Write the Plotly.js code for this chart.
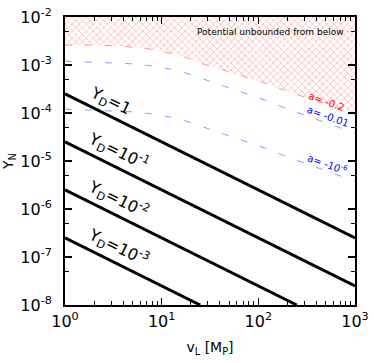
<!DOCTYPE html>
<html>
<head>
<meta charset="utf-8">
<script src="https://cdn.plot.ly/plotly-3.0.1.min.js"></script>
<style>
  html, body { margin: 0; padding: 0; background: #fff; }
  #chart { width: 374px; height: 363px; }
</style>
</head>
<body>
<div id="chart"></div>
<script>
// boundary curves (vL in M_P, Y_N)
const curveX = [1, 2.0, 3.7, 7.6, 15.5, 25, 51, 105, 270, 690, 1000];
const redY = [2.6e-3, 2.6e-3, 2.5e-3, 2.15e-3, 1.6e-3, 1.1e-3, 7.1e-4, 4.5e-4, 2.3e-4, 1.26e-4, 9.0e-5];

const blueX = [1, 2.0, 5.5, 9.6, 15.5, 27, 45, 73, 122, 203, 1000];
const blueY1 = [1.2e-3, 1.15e-3, 1.05e-3, 9.1e-4, 7.5e-4, 5.1e-4, 3.6e-4, 2.6e-4, 1.8e-4, 1.2e-4, 3.8e-5];
const blueY2 = [1.2e-4, 1.15e-4, 1.05e-4, 9.1e-5, 7.5e-5, 5.1e-5, 3.6e-5, 2.6e-5, 1.8e-5, 1.2e-5, 3.8e-6];

// straight Y_D lines (end points)
const ydLines = [
  { x: [1, 1000], y: [2.5e-4, 2.5e-7], label: "Y<sub>D</sub>=1", lx: 0.47, ly: -3.75 },
  { x: [1, 1000], y: [2.5e-5, 2.5e-8], label: "Y<sub>D</sub>=10<sup>-1</sup>", lx: 0.55, ly: -4.81 },
  { x: [1, 250], y: [2.5e-6, 1e-8], label: "Y<sub>D</sub>=10<sup>-2</sup>", lx: 0.55, ly: -5.81 },
  { x: [1, 25], y: [2.5e-7, 1e-8], label: "Y<sub>D</sub>=10<sup>-3</sup>", lx: 0.55, ly: -6.81 },
];

const xTickVals = [1, 10, 100, 1000];
const xTickText = ["10<sup>0</sup>", "10<sup>1</sup>", "10<sup>2</sup>", "10<sup>3</sup>"];
const yTickVals = [1e-8, 1e-7, 1e-6, 1e-5, 1e-4, 1e-3, 1e-2];
const yTickText = ["10<sup>-8</sup>", "10<sup>-7</sup>", "10<sup>-6</sup>", "10<sup>-5</sup>",
  "10<sup>-4</sup>", "10<sup>-3</sup>", "10<sup>-2</sup>"];
const yMinorVals = [5e-8, 5e-7, 5e-6, 5e-5, 5e-4, 5e-3];
const xMinorVals = [];
[1, 10, 100].forEach(d => { for (let k = 2; k <= 9; k++) xMinorVals.push(k * d); });

const traces = [];

// hatched region above the red curve
traces.push({
  x: curveX.concat([1000, 1]),
  y: redY.concat([1e-2, 1e-2]),
  mode: "lines",
  line: { width: 0 },
  fill: "toself",
  fillcolor: "rgba(0,0,0,0)",
  fillpattern: { shape: "x", fgcolor: "rgb(255,160,160)", bgcolor: "white", size: 5, solidity: 0.22 },
  hoverinfo: "skip",
});

traces.push({
  x: curveX, y: redY, mode: "lines",
  line: { color: "rgb(255,150,150)", width: 1, dash: "7px,13px" },
});
traces.push({
  x: blueX, y: blueY1, mode: "lines",
  line: { color: "rgb(150,150,255)", width: 1, dash: "7px,13px" },
});
traces.push({
  x: blueX, y: blueY2, mode: "lines",
  line: { color: "rgb(150,150,255)", width: 1, dash: "7px,13px" },
});

ydLines.forEach(l => {
  traces.push({ x: l.x, y: l.y, mode: "lines", line: { color: "black", width: 3 } });
});

const annotations = ydLines.map(l => ({
  x: l.lx, y: l.ly, text: l.label, textangle: 26, font: { size: 16, color: "black" },
}));

annotations.push(
  { x: 2.70, y: -3.75, text: "a= -0.2", textangle: 20, font: { size: 10, color: "red" } },
  { x: 2.72, y: -4.08, text: "a= -0.01", textangle: 20, font: { size: 10, color: "blue" } },
  { x: 2.72, y: -5.06, text: "a= -10<sup>-6</sup>", textangle: 20, font: { size: 10, color: "blue" } },
  { x: 2.13, y: -2.31, text: "Potential unbounded from below", font: { size: 9, color: "black" } }
);
annotations.forEach(a => { a.showarrow = false; a.xref = "x"; a.yref = "y"; });

const axisBase = {
  type: "log",
  showgrid: false,
  zeroline: false,
  showline: true,
  linecolor: "black",
  linewidth: 2,
  mirror: "ticks",
  ticks: "inside",
  ticklen: 7,
  tickwidth: 1.5,
  tickcolor: "black",
  tickmode: "array",
  tickfont: { family: "DejaVu Sans", size: 16, color: "black" },
};

const layout = {
  width: 374,
  height: 363,
  margin: { l: 65, r: 19, t: 17, b: 58 },
  paper_bgcolor: "white",
  plot_bgcolor: "white",
  showlegend: false,
  font: { family: "DejaVu Sans", color: "black" },
  xaxis: Object.assign({}, axisBase, {
    range: [0, 3],
    tickvals: xTickVals,
    ticktext: xTickText,
    ticklabelstandoff: 1,
    minor: { tickmode: "array", tickvals: xMinorVals, ticks: "inside", ticklen: 4, tickwidth: 1, tickcolor: "black" },
    title: { text: "v<sub>L</sub> [M<sub>P</sub>]", font: { size: 14 }, standoff: 12 },
  }),
  yaxis: Object.assign({}, axisBase, {
    range: [-8, -2],
    tickvals: yTickVals,
    ticktext: yTickText,
    ticklabelstandoff: 8,
    minor: { tickmode: "array", tickvals: yMinorVals, ticks: "inside", ticklen: 4, tickwidth: 1, tickcolor: "black" },
    title: { text: "Y<sub>N</sub>", font: { size: 14 }, standoff: 4 },
  }),
  annotations: annotations,
};

Plotly.newPlot("chart", traces, layout, { displayModeBar: false, staticPlot: true });
</script>
</body>
</html>
